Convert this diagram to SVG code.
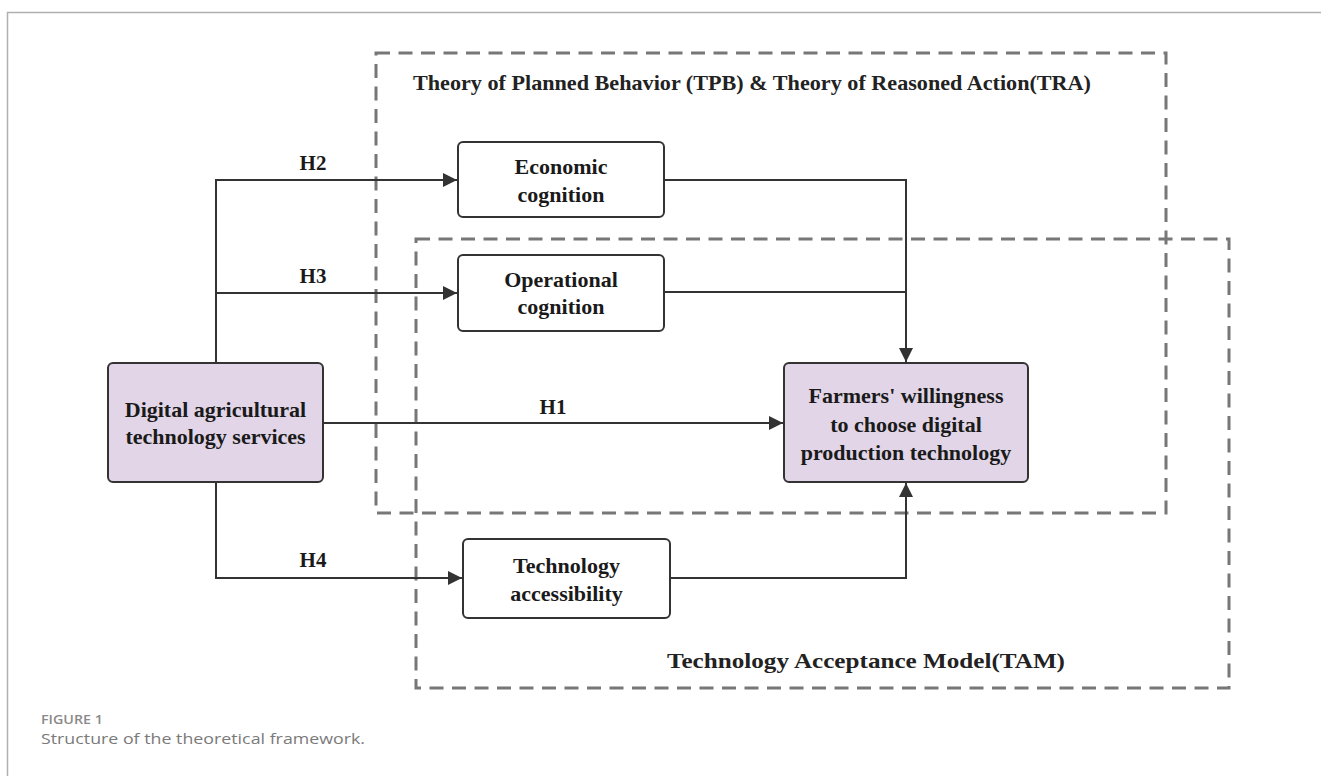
<svg xmlns="http://www.w3.org/2000/svg" width="1321" height="776" viewBox="0 0 1321 776">
<style>
.frame{fill:none;stroke:#b0b0b0;stroke-width:1.5}
.group{fill:none;stroke:#777;stroke-width:3;stroke-dasharray:14 8.5}
.node{fill:#fff;stroke:#333;stroke-width:2}
.hl{fill:#e1d5e7}
.t{font-family:"Liberation Serif","Times New Roman",serif;font-weight:bold;font-size:22px;fill:#1a1a1a;text-anchor:middle}
.h{font-family:"Liberation Serif","Times New Roman",serif;font-weight:bold;font-size:21px;fill:#1a1a1a;text-anchor:middle}
.g{font-family:"Liberation Serif","Times New Roman",serif;font-weight:bold;font-size:22px;fill:#222}
.conn{fill:none;stroke:#333;stroke-width:2}
.cap1{font-family:"Open Sans","Noto Sans",sans-serif;font-weight:600;font-size:13px;fill:#8a8a8a}
.cap2{font-family:"Open Sans","Noto Sans",sans-serif;font-size:15px;fill:#7a7a7a}
</style>
<defs>
<marker id="arrL" viewBox="0 0 12 12" refX="12" refY="6" markerWidth="14" markerHeight="14" markerUnits="userSpaceOnUse" orient="auto">
<path d="M0,0 L12,6 L0,12 Z" fill="#333"/>
</marker>
</defs>
<rect width="1321" height="776" fill="#fff"/>
<path class="frame" d="M7.5,776 V12.5 H1321"/>

<g id="group-tpb">
<rect class="group" x="376" y="53" width="790" height="460"/>
<text class="g" x="752" y="90" text-anchor="middle" textLength="678" lengthAdjust="spacingAndGlyphs">Theory of Planned Behavior (TPB) &amp; Theory of Reasoned Action(TRA)</text>
</g>
<g id="group-tam">
<rect class="group" x="416" y="239" width="813" height="449"/>
<text class="g" x="866" y="668" text-anchor="middle" textLength="398" lengthAdjust="spacingAndGlyphs">Technology Acceptance Model(TAM)</text>
</g>

<g id="connectors">
<path class="conn" d="M216,362 V180 H457" marker-end="url(#arrL)"/>
<path class="conn" d="M216,293 H457" marker-end="url(#arrL)"/>
<path class="conn" d="M323,423 H783" marker-end="url(#arrL)"/>
<path class="conn" d="M216,483 V578 H462" marker-end="url(#arrL)"/>
<path class="conn" d="M664,180 H906 V362" marker-end="url(#arrL)"/>
<path class="conn" d="M664,292 H906"/>
<path class="conn" d="M670,578 H906 V483" marker-end="url(#arrL)"/>
<text class="h" x="313" y="170">H2</text>
<text class="h" x="313" y="283">H3</text>
<text class="h" x="553" y="414">H1</text>
<text class="h" x="313" y="567">H4</text>
</g>

<g id="node-digital">
<rect class="node hl" x="108" y="363" width="215" height="119" rx="5"/>
<text class="t" x="215.5" y="417">Digital agricultural</text>
<text class="t" x="215.5" y="444">technology services</text>
</g>
<g id="node-economic">
<rect class="node" x="458" y="142" width="206" height="75" rx="5"/>
<text class="t" x="561" y="174">Economic</text>
<text class="t" x="561" y="202">cognition</text>
</g>
<g id="node-operational">
<rect class="node" x="458" y="255" width="206" height="76" rx="5"/>
<text class="t" x="561" y="287">Operational</text>
<text class="t" x="561" y="314">cognition</text>
</g>
<g id="node-accessibility">
<rect class="node" x="463" y="539" width="207" height="79" rx="5"/>
<text class="t" x="566.5" y="573">Technology</text>
<text class="t" x="566.5" y="601">accessibility</text>
</g>
<g id="node-farmers">
<rect class="node hl" x="784" y="363" width="244" height="119" rx="5"/>
<text class="t" x="906" y="403">Farmers' willingness</text>
<text class="t" x="906" y="432">to choose digital</text>
<text class="t" x="906" y="460">production technology</text>
</g>

<g id="caption">
<text class="cap1" x="41" y="724" textLength="62" lengthAdjust="spacingAndGlyphs">FIGURE 1</text>
<text class="cap2" x="41" y="744" textLength="324" lengthAdjust="spacingAndGlyphs">Structure of the theoretical framework.</text>
</g>
</svg>
